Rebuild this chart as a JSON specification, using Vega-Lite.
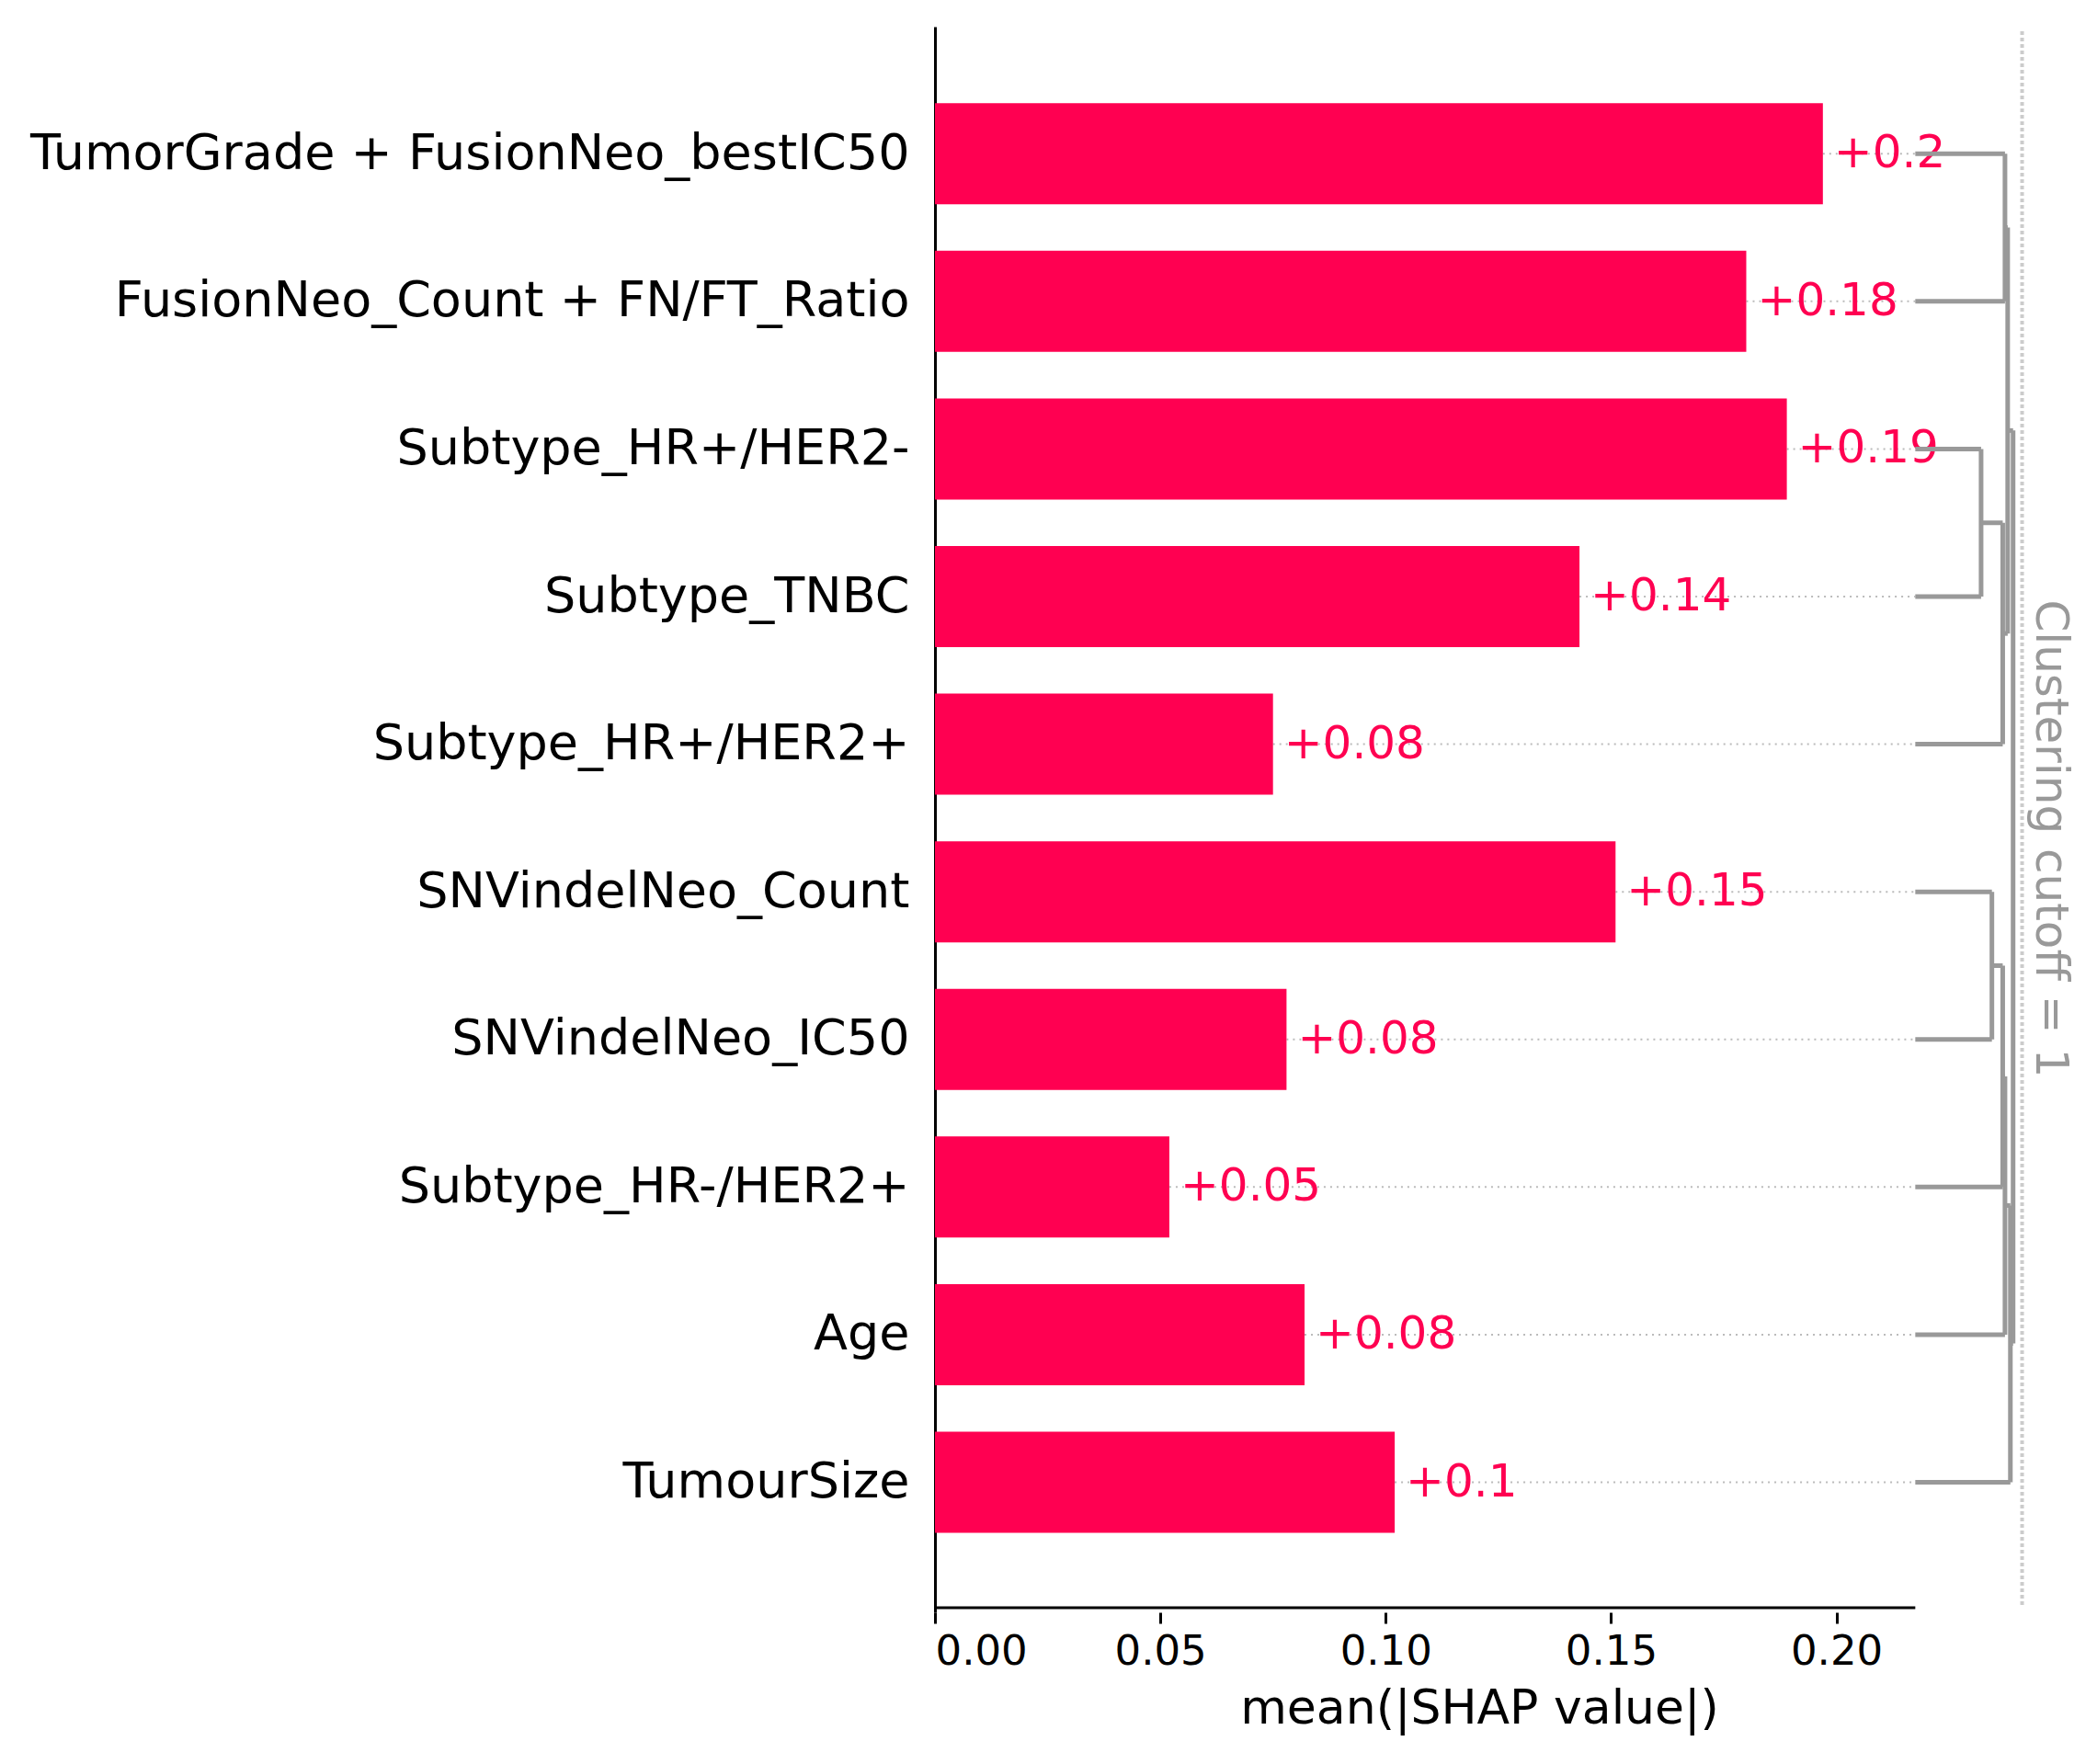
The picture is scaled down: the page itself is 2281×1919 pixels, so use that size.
{
  "$schema": "https://vega.github.io/schema/vega-lite/v6.json",
  "autosize": "none",
  "width": 1184,
  "height": 1725,
  "padding": {"left": 1017, "top": 29, "right": 80, "bottom": 165},
  "background": "white",
  "config": {"view": {"stroke": null}, "font": "DejaVu Sans"},
  "datasets": {
    "bars": [
      {"rank": 0, "feature": "TumorGrade + FusionNeo_bestIC50", "value": 0.197, "label": "+0.2"},
      {"rank": 1, "feature": "FusionNeo_Count + FN/FT_Ratio", "value": 0.180, "label": "+0.18"},
      {"rank": 2, "feature": "Subtype_HR+/HER2-", "value": 0.189, "label": "+0.19"},
      {"rank": 3, "feature": "Subtype_TNBC", "value": 0.143, "label": "+0.14"},
      {"rank": 4, "feature": "Subtype_HR+/HER2+", "value": 0.075, "label": "+0.08"},
      {"rank": 5, "feature": "SNVindelNeo_Count", "value": 0.151, "label": "+0.15"},
      {"rank": 6, "feature": "SNVindelNeo_IC50", "value": 0.078, "label": "+0.08"},
      {"rank": 7, "feature": "Subtype_HR-/HER2+", "value": 0.052, "label": "+0.05"},
      {"rank": 8, "feature": "Age", "value": 0.082, "label": "+0.08"},
      {"rank": 9, "feature": "TumourSize", "value": 0.102, "label": "+0.1"}
    ],
    "tree": [
      {"x": 0.2175, "x2": 0.2374, "y": 0, "y2": 0},
      {"x": 0.2175, "x2": 0.2374, "y": 1, "y2": 1},
      {"x": 0.2175, "x2": 0.2321, "y": 2, "y2": 2},
      {"x": 0.2175, "x2": 0.2321, "y": 3, "y2": 3},
      {"x": 0.2175, "x2": 0.2369, "y": 4, "y2": 4},
      {"x": 0.2175, "x2": 0.2345, "y": 5, "y2": 5},
      {"x": 0.2175, "x2": 0.2345, "y": 6, "y2": 6},
      {"x": 0.2175, "x2": 0.2369, "y": 7, "y2": 7},
      {"x": 0.2175, "x2": 0.2374, "y": 8, "y2": 8},
      {"x": 0.2175, "x2": 0.2386, "y": 9, "y2": 9},
      {"x": 0.2321, "x2": 0.2321, "y": 2, "y2": 3},
      {"x": 0.2321, "x2": 0.2369, "y": 2.5, "y2": 2.5},
      {"x": 0.2369, "x2": 0.2369, "y": 2.5, "y2": 4},
      {"x": 0.2369, "x2": 0.2380, "y": 3.25, "y2": 3.25},
      {"x": 0.2374, "x2": 0.2374, "y": 0, "y2": 1},
      {"x": 0.2374, "x2": 0.2380, "y": 0.5, "y2": 0.5},
      {"x": 0.2380, "x2": 0.2380, "y": 0.5, "y2": 3.25},
      {"x": 0.2380, "x2": 0.2392, "y": 1.875, "y2": 1.875},
      {"x": 0.2345, "x2": 0.2345, "y": 5, "y2": 6},
      {"x": 0.2345, "x2": 0.2369, "y": 5.5, "y2": 5.5},
      {"x": 0.2369, "x2": 0.2369, "y": 5.5, "y2": 7},
      {"x": 0.2369, "x2": 0.2374, "y": 6.25, "y2": 6.25},
      {"x": 0.2374, "x2": 0.2374, "y": 6.25, "y2": 8},
      {"x": 0.2374, "x2": 0.2386, "y": 7.125, "y2": 7.125},
      {"x": 0.2386, "x2": 0.2386, "y": 7.125, "y2": 9},
      {"x": 0.2386, "x2": 0.2392, "y": 8.06, "y2": 8.06},
      {"x": 0.2392, "x2": 0.2392, "y": 1.875, "y2": 8.06}
    ]
  },
  "layer": [
    {
      "data": {"name": "bars"},
      "mark": {"type": "rule", "color": "#bbbbbb", "strokeWidth": 2, "strokeDash": [2, 5]},
      "encoding": {
        "x": {
          "field": "value", "type": "quantitative",
          "scale": {"domain": [0, 0.2415], "nice": false, "zero": false},
          "axis": {
            "values": [0, 0.05, 0.1, 0.15, 0.2], "format": ".2f", "domain": false,
            "grid": false, "labelFontSize": 45, "tickSize": 12, "tickWidth": 3, "tickColor": "black",
            "labelColor": "black", "labelPadding": 8, "title": "mean(|SHAP value|)",
            "titleFontSize": 52, "titleFontWeight": "normal", "titleColor": "black", "titlePadding": 14
          }
        },
        "x2": {"datum": 0.2175},
        "y": {
          "field": "rank", "type": "quantitative",
          "scale": {"domain": [-0.83, 9.85], "reverse": true, "nice": false, "zero": false},
          "axis": {
            "values": [0, 1, 2, 3, 4, 5, 6, 7, 8, 9], "grid": false, "ticks": false,
            "domainColor": "black", "domainWidth": 3, "labelFontSize": 54, "labelColor": "black",
            "labelPadding": 28, "labelLimit": 1200, "title": null,
            "labelExpr": "['TumorGrade + FusionNeo_bestIC50','FusionNeo_Count + FN/FT_Ratio','Subtype_HR+/HER2-','Subtype_TNBC','Subtype_HR+/HER2+','SNVindelNeo_Count','SNVindelNeo_IC50','Subtype_HR-/HER2+','Age','TumourSize'][datum.value]"
          }
        }
      }
    },
    {
      "data": {"name": "bars"},
      "mark": {"type": "bar", "color": "#ff0051", "size": 110, "orient": "horizontal"},
      "encoding": {
        "x": {"field": "value", "type": "quantitative"},
        "x2": {"datum": 0},
        "y": {"field": "rank", "type": "quantitative"}
      }
    },
    {
      "data": {"name": "bars"},
      "mark": {"type": "text", "color": "#ff0051", "fontSize": 50, "align": "left", "baseline": "middle", "dx": 12},
      "encoding": {
        "x": {"field": "value", "type": "quantitative"},
        "y": {"field": "rank", "type": "quantitative"},
        "text": {"field": "label"}
      }
    },
    {
      "data": {"name": "tree"},
      "mark": {"type": "rule", "color": "#999999", "strokeWidth": 5},
      "encoding": {
        "x": {"field": "x", "type": "quantitative"},
        "x2": {"field": "x2"},
        "y": {"field": "y", "type": "quantitative"},
        "y2": {"field": "y2"}
      }
    },
    {
      "data": {"values": [{"x0": 0, "x1": 0.2175, "yy": 9.85}]},
      "mark": {"type": "rule", "color": "black", "strokeWidth": 3},
      "encoding": {
        "x": {"field": "x0", "type": "quantitative"},
        "x2": {"field": "x1"},
        "y": {"field": "yy", "type": "quantitative"}
      }
    },
    {
      "data": {"values": [{"cx": 0.2412, "ya": -0.83, "yb": 9.85}]},
      "mark": {"type": "rule", "color": "#cccccc", "strokeWidth": 4, "strokeDash": [4, 3]},
      "encoding": {
        "x": {"field": "cx", "type": "quantitative"},
        "y": {"field": "ya", "type": "quantitative"},
        "y2": {"field": "yb"}
      }
    },
    {
      "data": {"values": [{"cx": 0.2412, "ym": 4.64, "t": "Clustering cutoff = 1"}]},
      "mark": {"type": "text", "color": "#999999", "fontSize": 50, "angle": 90, "align": "center", "baseline": "middle", "dy": -30},
      "encoding": {
        "x": {"field": "cx", "type": "quantitative"},
        "y": {"field": "ym", "type": "quantitative"},
        "text": {"field": "t"}
      }
    }
  ]
}
